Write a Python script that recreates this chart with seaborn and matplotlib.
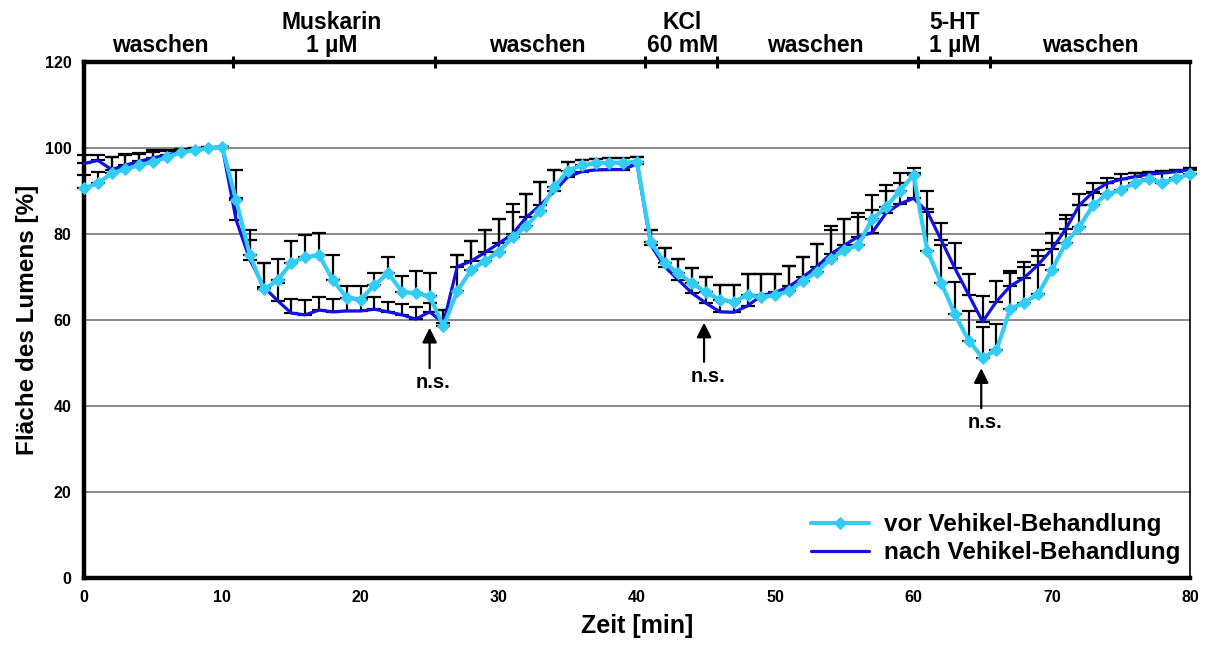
import numpy as np
import pandas as pd
import matplotlib
matplotlib.use("Agg")
import matplotlib.pyplot as plt
import seaborn as sns

# ---------------- data ----------------
zeit = list(range(0, 81))

vor = [90.6, 91.8, 94.1, 95.1, 96.0, 96.8, 97.8, 99.0, 99.5, 99.9,
       100.2, 87.9, 75.1, 67.1, 69.2, 73.3, 74.6, 75.1, 69.3, 65.2,
       64.7, 68.1, 70.9, 66.6, 66.2, 65.6, 58.5, 66.7, 71.6, 73.7,
       75.9, 79.2, 81.9, 85.3, 90.9, 94.7, 96.0, 96.4, 96.6, 96.6,
       96.8, 78.1, 73.3, 70.9, 68.5, 66.4, 64.7, 64.3, 65.8, 65.3,
       65.8, 66.7, 69.1, 71.2, 74.1, 76.3, 77.4, 83.4, 86.2, 90.0,
       93.7, 76.1, 68.7, 61.3, 55.2, 51.2, 53.0, 62.6, 64.0, 66.0,
       71.6, 77.8, 81.7, 86.7, 89.3, 90.2, 91.9, 92.8, 91.9, 93.0,
       93.9]

nach = [96.4, 97.1, 95.0, 96.0, 96.9, 97.7, 98.4, 99.0, 99.5, 99.9,
        100.2, 83.3, 74.0, 67.7, 64.5, 61.6, 61.2, 62.3, 61.9, 62.1,
        62.1, 62.5, 61.9, 61.2, 60.2, 61.9, 59.3, 72.4, 73.7, 75.7,
        77.8, 80.0, 83.9, 86.7, 89.9, 93.3, 94.5, 94.9, 95.0, 95.0,
        96.3, 77.4, 72.4, 69.3, 66.2, 63.9, 61.9, 61.8, 63.3, 65.7,
        66.4, 67.8, 70.0, 72.4, 75.3, 77.4, 79.4, 80.3, 84.8, 87.0,
        88.3, 85.2, 78.6, 72.0, 65.8, 59.6, 64.3, 67.9, 69.8, 72.8,
        76.4, 81.1, 86.7, 89.8, 91.8, 92.7, 93.3, 93.9, 94.2, 94.5,
        95.0]

err_vor = [3.1, 2.7, 3.9, 3.2, 2.7, 2.2, 1.6, 0.6, 0.5, 0.3,
           0.0, 7.0, 5.9, 6.2, 4.9, 5.1, 5.2, 5.1, 5.8, 2.7,
           3.2, 2.9, 3.7, 3.6, 5.3, 5.3, 3.8, 8.5, 6.8, 7.3,
           7.5, 6.0, 7.4, 6.9, 4.0, 2.0, 1.3, 1.1, 1.0, 1.1,
           1.0, 2.9, 3.4, 3.2, 3.5, 3.7, 3.4, 3.8, 4.9, 5.4,
           4.9, 5.9, 5.5, 6.4, 6.9, 7.1, 6.5, 5.6, 5.2, 4.3,
           1.6, 9.7, 8.7, 7.6, 6.8, 7.1, 6.1, 8.4, 8.4, 9.0,
           6.4, 5.6, 5.0, 2.8, 2.5, 2.5, 2.4, 1.7, 2.8, 1.9,
           1.4]

err_nach = [2.0, 1.3, 3.0, 2.5, 2.0, 1.8, 1.2, 0.8, 0.5, 0.3,
            0.0, 5.0, 4.6, 5.6, 4.0, 3.2, 3.4, 3.1, 2.9, 3.0,
            3.0, 2.9, 2.3, 2.6, 2.8, 2.0, 3.0, 2.8, 4.7, 5.3,
            5.6, 7.0, 5.4, 5.5, 5.0, 3.4, 2.8, 2.6, 2.6, 2.7,
            1.5, 3.6, 4.3, 4.8, 5.8, 6.2, 6.2, 6.3, 7.4, 5.0,
            4.3, 4.8, 4.6, 5.2, 6.5, 6.0, 5.6, 5.3, 5.3, 4.8,
            6.0, 4.7, 3.9, 5.8, 4.9, 6.0, 4.8, 3.6, 3.6, 3.4,
            3.9, 3.3, 2.6, 2.0, 1.2, 1.2, 1.0, 0.6, 0.5, 0.4,
            0.3]

series_names = ["vor Vehikel-Behandlung", "nach Vehikel-Behandlung"]

phase_bounds = [10.8, 25.4, 40.6, 45.8, 60.3, 65.5]
phase_labels = ["waschen", "Muskarin\n1 µM", "waschen", "KCl\n60 mM",
                "waschen", "5-HT\n1 µM", "waschen"]
phase_centers = [5.5, 17.9, 32.8, 43.3, 52.9, 63.0, 72.8]

ns_x = [25.0, 44.85, 64.9]
ns_tip = [58.2, 59.4, 48.8]
ns_tail = [48.8, 50.3, 39.5]
ns_text_y = [45.5, 46.9, 36.2]

# ---------------- style ----------------
sns.set_style("white")
plt.rcParams["font.family"] = ["Liberation Sans", "DejaVu Sans"]
plt.rcParams["font.weight"] = "bold"
for k in ["text.color", "axes.labelcolor", "xtick.color", "ytick.color"]:
    plt.rcParams[k] = "black"

cyan = "#33CCF5"
dblue = "#1212E2"

fig = plt.figure(figsize=(12.07, 6.51), dpi=100)
ax = fig.add_axes([84 / 1207, 1 - 578 / 651, (1190 - 84) / 1207, (578 - 62) / 651])

df = pd.DataFrame({
    "Zeit": zeit * 2,
    "Wert": vor + nach,
    "Serie": [series_names[0]] * len(zeit) + [series_names[1]] * len(zeit),
})

# grid
for g in [20, 40, 60, 80, 100]:
    ax.axhline(g, color="#7f7f7f", lw=1.3, zorder=1)

# error bars (plus only)
ax.errorbar(zeit, nach, yerr=[np.zeros(len(zeit)), err_nach], fmt="none",
            ecolor="black", elinewidth=1.6, capsize=5, capthick=1.6, zorder=2)
ax.errorbar(zeit, vor, yerr=[np.zeros(len(zeit)), err_vor], fmt="none",
            ecolor="black", elinewidth=1.6, capsize=5, capthick=1.6, zorder=2)

sns.lineplot(data=df[df["Serie"] == series_names[1]], x="Zeit", y="Wert",
             color=dblue, lw=2.3, ax=ax, label=series_names[1], zorder=3)
sns.lineplot(data=df[df["Serie"] == series_names[0]], x="Zeit", y="Wert",
             color=cyan, lw=3.0, marker="D", markersize=6.5,
             markeredgecolor=cyan, ax=ax, label=series_names[0], zorder=4)
for ln in ax.lines:
    ln.set_clip_on(False)

ax.set_xlim(0, 80)
ax.set_ylim(0, 120)
ax.set_xticks(range(0, 81, 10))
ax.set_yticks(range(0, 121, 20))
ax.tick_params(axis="both", labelsize=11.5, direction="out", width=2.5,
               length=4, color="black", pad=5)
for lab in ax.get_xticklabels() + ax.get_yticklabels():
    lab.set_fontweight("bold")

ax.set_xlabel("Zeit [min]", fontsize=18, fontweight="bold", labelpad=6)
ax.set_ylabel("Fläche des Lumens [%]", fontsize=17.5, fontweight="bold", labelpad=4)

for side in ["left", "bottom", "top"]:
    ax.spines[side].set_visible(True)
    ax.spines[side].set_color("black")
    ax.spines[side].set_linewidth(3.2)
ax.spines["right"].set_visible(True)
ax.spines["right"].set_color("black")
ax.spines["right"].set_linewidth(1.2)

# phase ticks on top line
ax.vlines(phase_bounds, 118.6, 121.4, color="black", lw=2.2, clip_on=False, zorder=5)

# phase labels
for lab, cx in zip(phase_labels, phase_centers):
    lines = lab.split("\n")
    if len(lines) == 1:
        ax.text(cx, 122.4, lines[0], ha="center", va="baseline",
                fontsize=16.5, fontweight="bold", clip_on=False)
    else:
        ax.text(cx, 127.6, lines[0], ha="center", va="baseline",
                fontsize=16.5, fontweight="bold", clip_on=False)
        ax.text(cx, 122.4, lines[1], ha="center", va="baseline",
                fontsize=16.5, fontweight="bold", clip_on=False)

# n.s. arrows
for x, tip, tail, ty in zip(ns_x, ns_tip, ns_tail, ns_text_y):
    ax.annotate("", xy=(x, tip), xytext=(x, tail),
                arrowprops=dict(arrowstyle="-|>", color="black", lw=1.6,
                                mutation_scale=22, shrinkA=0, shrinkB=0),
                zorder=6)
    ax.text(x + 0.25, ty, "n.s.", ha="center", va="center",
            fontsize=14.5, fontweight="bold")

handles, labels = ax.get_legend_handles_labels()
order = [labels.index(series_names[0]), labels.index(series_names[1])]
leg = ax.legend([handles[i] for i in order], [labels[i] for i in order],
                loc="lower right", bbox_to_anchor=(1.0, 0.008), frameon=False,
                fontsize=17.5, handlelength=2.4, handletextpad=0.6,
                labelspacing=0.2, borderaxespad=0)
for t in leg.get_texts():
    t.set_fontweight("bold")

fig.savefig("out.png", dpi=100)
